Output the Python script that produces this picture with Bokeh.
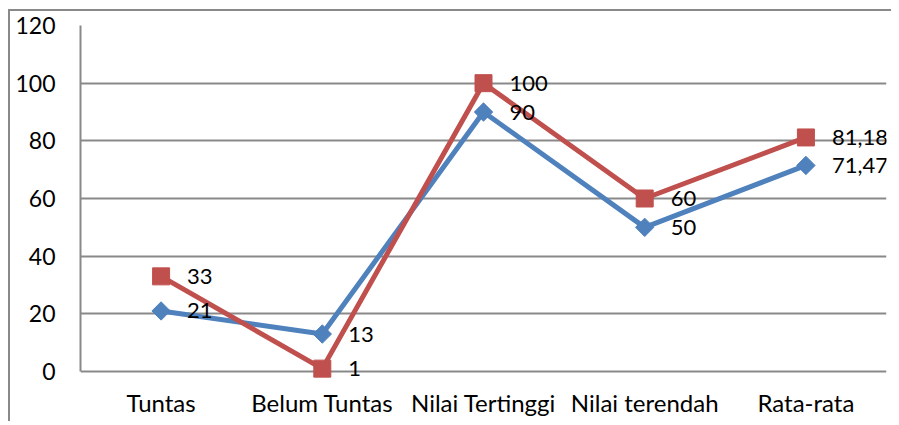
from bokeh.plotting import figure
from bokeh.models import ColumnDataSource, LabelSet, FixedTicker
from bokeh.core.properties import value
from bokeh.embed import file_html
from bokeh.resources import INLINE

categories = ["Tuntas", "Belum Tuntas", "Nilai Tertinggi", "Nilai terendah", "Rata-rata"]
series_blue = [21, 13, 90, 50, 71.47]
series_red = [33, 1, 100, 60, 81.18]
y_ticks = [0, 20, 40, 60, 80, 100, 120]

BLUE = "#4F81BD"
RED = "#C0504D"
GRID = "#898989"
FONT = "Lato"


def fmt(v):
    s = ("%g" % v)
    return s.replace(".", ",")


src_b = ColumnDataSource(dict(x=categories, y=series_blue, t=[fmt(v) for v in series_blue]))
src_r = ColumnDataSource(dict(x=categories, y=series_red, t=[fmt(v) for v in series_red]))

# y range extends a little below 0 so that the label "1" is not clipped;
# the y axis itself is bounded to 0..120
p = figure(x_range=categories, y_range=(-4.5, 120), width=883, height=412,
           output_backend="svg", toolbar_location=None,
           min_border_left=70, min_border_right=7, min_border_top=14, min_border_bottom=39)
p.styles = {"margin-left": "8px", "margin-top": "9px",
            "border-top": "2px solid " + GRID, "border-left": "2px solid " + GRID}

p.outline_line_color = None
p.background_fill_color = "white"
p.border_fill_color = "white"
p.xgrid.grid_line_color = None
p.ygrid.grid_line_color = GRID
p.ygrid.grid_line_width = 2
p.yaxis.ticker = FixedTicker(ticks=y_ticks)
p.yaxis.bounds = (0, 120)

for ax in (p.xaxis[0], p.yaxis[0]):
    ax.axis_line_color = GRID
    ax.axis_line_width = 2
    ax.major_tick_line_color = None
    ax.minor_tick_line_color = None
    ax.major_tick_out = 0
    ax.major_tick_in = 0
    ax.major_label_text_font = FONT
    ax.major_label_text_color = "black"
p.xaxis.axis_line_color = None
p.yaxis.major_label_text_font_size = "23px"
p.xaxis.major_label_text_font_size = "24px"
p.yaxis.major_label_standoff = 25
p.xaxis.major_label_standoff = 3

p.line("x", "y", source=src_b, line_color=BLUE, line_width=5)
p.scatter("x", "y", source=src_b, marker="square", angle=0.785398, size=13,
          fill_color=BLUE, line_color=BLUE)
p.line("x", "y", source=src_r, line_color=RED, line_width=5)
p.scatter("x", "y", source=src_r, marker="square", size=17,
          fill_color=RED, line_color=RED)

for src in (src_b, src_r):
    p.add_layout(LabelSet(x="x", y="y", text="t", source=src, x_offset=26,
                          text_align="left", text_baseline="middle",
                          text_font=value(FONT), text_font_size=value("22px"),
                          text_color="black"))

open("out.html", "w").write(file_html(p, INLINE))
